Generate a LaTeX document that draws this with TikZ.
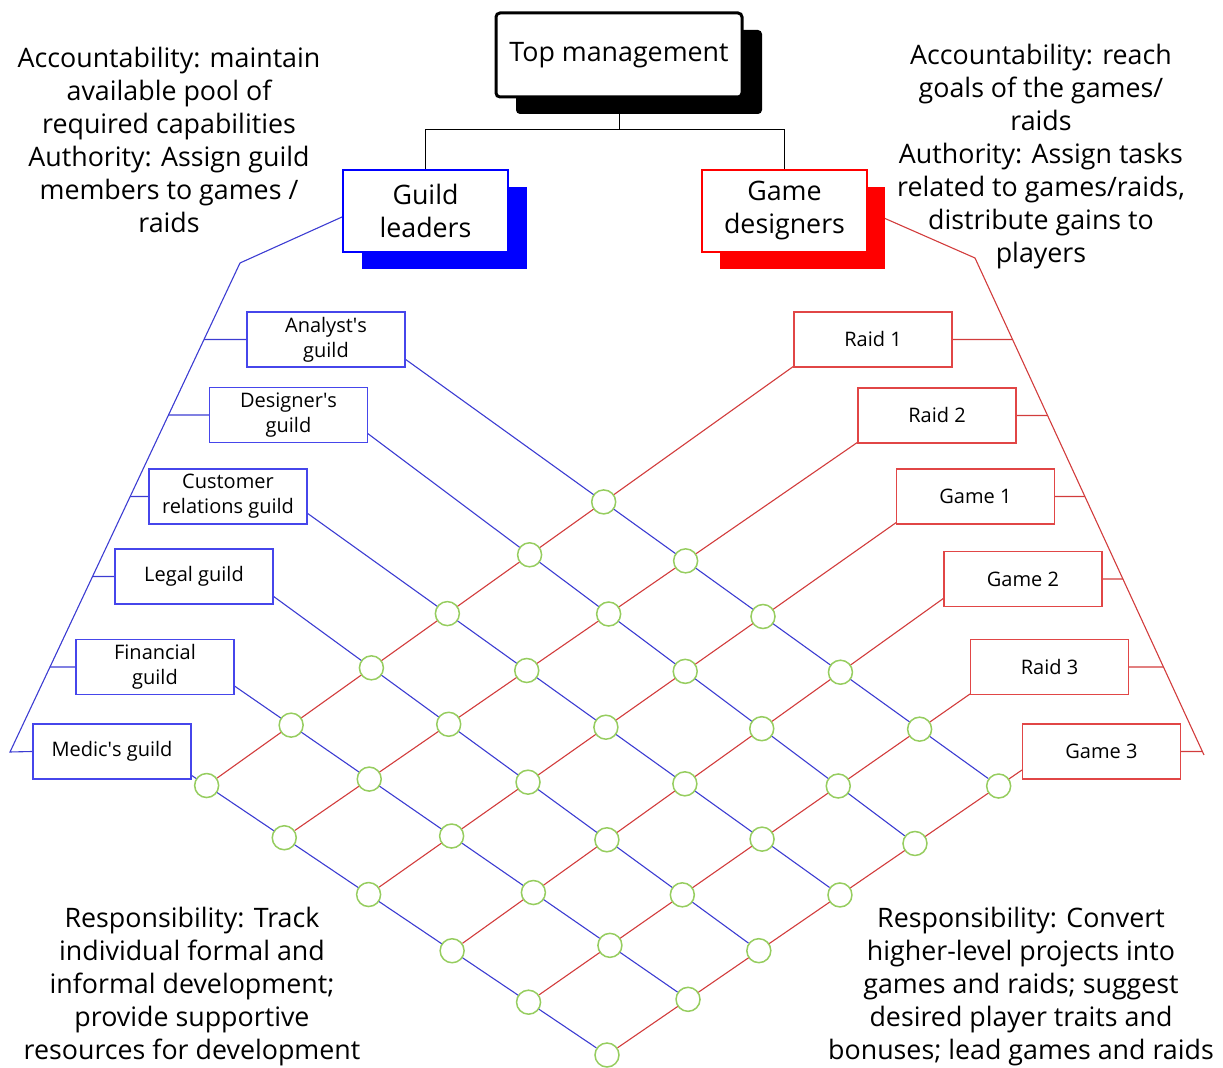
\documentclass[tikz,border=0pt]{standalone}
\usepackage{fontspec}
\setmainfont{Open Sans}
\usetikzlibrary{positioning,calc,shadows,backgrounds}

\definecolor{guildblue}{RGB}{0,0,255}
\definecolor{gamered}{RGB}{255,0,0}
\definecolor{boxblue}{RGB}{70,70,235}
\definecolor{boxred}{RGB}{225,70,70}
\definecolor{wireblue}{RGB}{60,60,210}
\definecolor{wirered}{RGB}{210,60,60}
\definecolor{jointgreen}{RGB}{150,205,95}

\newcommand{\notefont}{\fontsize{13.4}{16.5}\selectfont}
\newcommand{\labelfont}{\fontsize{10}{12.5}\selectfont}

\tikzset{
  boss/.style={draw=black, line width=1.5pt, rounded corners=2pt, fill=white,
    minimum width=123pt, minimum height=42pt, font=\notefont,
    drop shadow={shadow xshift=10pt, shadow yshift=-8.5pt, fill=black, opacity=1}},
  lead/.style={fill=white, line width=1pt, minimum width=82.5pt, minimum height=41pt,
    align=center, font=\notefont, inner sep=1pt},
  bluelead/.style={lead, draw=guildblue,
    drop shadow={shadow xshift=9.5pt, shadow yshift=-8.5pt, fill=guildblue, opacity=1}},
  redlead/.style={lead, draw=gamered,
    drop shadow={shadow xshift=9pt, shadow yshift=-8.5pt, fill=gamered, opacity=1}},
  unitbox/.style={fill=white, line width=0.65pt, minimum width=79pt, minimum height=27.5pt,
    align=center, font=\labelfont, inner sep=1pt},
  guildbox/.style={unitbox, draw=boxblue},
  gamebox/.style={unitbox, draw=boxred},
  joint/.style={circle, draw=jointgreen, line width=0.75pt, fill=white,
    minimum size=12pt, inner sep=0pt},
  bluewire/.style={wireblue, line width=0.55pt},
  redwire/.style={wirered, line width=0.55pt},
  note/.style={align=center, font=\notefont, inner sep=0pt}
}

\begin{document}
\begin{tikzpicture}[x=0.5pt,y=-0.5pt]
\useasboundingbox (0,0) rectangle (1223,1068);

% managers
\node[boss] (top) at (619,55) {Top management};
\node[bluelead] (guildlead) at (425.5,211) {Guild\\leaders};
\node[redlead] (gamedes) at (784.5,211) {Game\\designers};
\coordinate (split) at (619,130);

% guilds and projects
\foreach \n/\x/\y/\t in {1/326/339.5/{Analyst\textquotesingle s\\guild}, 2/288.5/415/{Designer\textquotesingle s\\guild},
    3/228/496.5/{Customer\\relations guild}, 4/194/576.5/{Legal guild},
    5/155/667/{Financial\\guild}, 6/112/751.5/{Medic\textquotesingle s guild}}
  \node[guildbox] (g\n) at (\x,\y) {\t};
\foreach \n/\x/\y/\t in {1/873/339.5/{Raid 1}, 2/937/415.5/{Raid 2}, 3/975.5/496.5/{Game 1},
    4/1023/579/{Game 2}, 5/1049.5/667/{Raid 3}, 6/1101.5/751.5/{Game 3}}
  \node[gamebox] (p\n) at (\x,\y) {\t};

% wire ends
\foreach \n/\a/\b in {1/{405,359}/{1000,787}, 2/{367,433}/{917,845}, 3/{307,513}/{840,895},
    4/{273,596}/{762,953}, 5/{233,685}/{689,1000}, 6/{191,775}/{607,1055}}{
  \coordinate (bs\n) at (\a);
  \coordinate (be\n) at (\b);
}
\foreach \n/\a/\b in {1/{794,366}/{206,786}, 2/{858,442}/{281,840}, 3/{897,522}/{368,895},
    4/{944,598}/{449,953}, 5/{970,694}/{526,1004}, 6/{1022,770}/{607,1055}}{
  \coordinate (rs\n) at (\a);
  \coordinate (re\n) at (\b);
}

% crossings
\foreach \i in {1,...,6}
  \foreach \j in {1,...,6}
    \node[joint] (x\i\j) at (intersection cs: first line={(bs\i)--(be\i)}, second line={(rs\j)--(re\j)}) {};

% brackets
\coordinate (lbk) at (240,263);
\coordinate (lbot) at (10,752);
\coordinate (rbk) at (975,258);
\coordinate (rbot) at (1204,755);

\begin{scope}[on background layer]
  \draw[black, line width=0.5pt] (top.south) -- (split) -| (guildlead.north);
  \draw[black, line width=0.5pt] (split) -| (gamedes.north);
  \draw[bluewire] ([yshift=-3pt]guildlead.west) -- (lbk) -- (lbot) -- (g6.west);
  \draw[redwire] (gamedes.east) -- (rbk) -- (rbot);
  \foreach \i in {1,...,5}
    \draw[bluewire] (g\i.west) -- (intersection cs: first line={(g\i.west)--(g\i.east)}, second line={(lbk)--(lbot)});
  \foreach \i in {1,...,6}
    \draw[redwire] (p\i.east) -- (intersection cs: first line={(p\i.east)--(p\i.west)}, second line={(rbk)--(rbot)});
  \foreach \i in {1,...,6}{
    \draw[bluewire] (bs\i) -- (x\i6);
    \draw[redwire] (rs\i) -- (x6\i);
  }
\end{scope}

% notes
\node[note] (guildduty) at (169,140) {Accountability: maintain\\available pool of\\required capabilities\\Authority: Assign guild\\members to games /\\raids};
\node[note] (gameduty) at (1041,157) {Accountability: reach\\goals of the games/\\raids\\Authority: Assign tasks\\related to games/raids,\\distribute gains to\\players};
\node[note] (guildresp) at (192,987) {Responsibility: Track\\individual formal and\\informal development;\\provide supportive\\resources for development};
\node[note] (gameresp) at (1021,987) {Responsibility: Convert\\higher-level projects into\\games and raids; suggest\\desired player traits and\\bonuses; lead games and raids};
\end{tikzpicture}
\end{document}
